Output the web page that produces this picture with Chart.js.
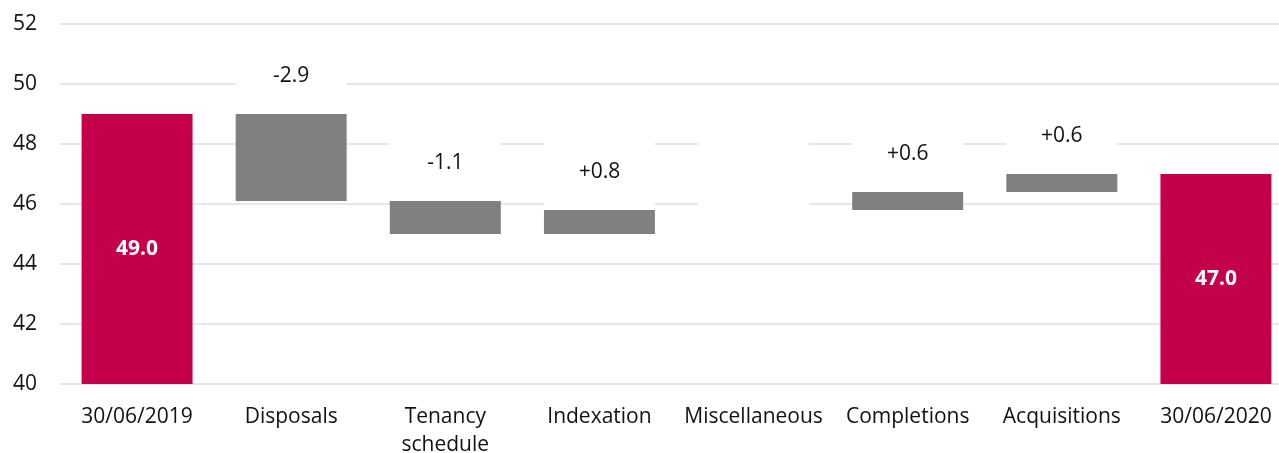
<!DOCTYPE html>
<html>
<head>
<meta charset="utf-8">
<script src="https://cdn.jsdelivr.net/npm/chart.js@4.4.1/dist/chart.umd.min.js"></script>
<style>
  html, body { margin: 0; padding: 0; background: #fff; overflow: hidden; }
  #wrap { width: 1293px; height: 453px; position: relative; }
</style>
</head>
<body>
<div id="wrap"><canvas id="waterfall"></canvas></div>
<script>
// categories and values
const categories = ['30/06/2019', 'Disposals', ['Tenancy', 'schedule'], 'Indexation', 'Miscellaneous', 'Completions', 'Acquisitions', '30/06/2020'];
const startValue = 49.0;
const endValue = 47.0;
const changes = [null, -2.9, -1.1, 0.8, 0, 0.6, 0.6, null];
const changeLabels = ['', '-2.9', '-1.1', '+0.8', '', '+0.6', '+0.6', ''];
const yTicks = [40, 42, 44, 46, 48, 50, 52];

const RED = '#c5004a';
const GREY = '#808080';
const FONT = '"Open Sans", "Noto Sans", sans-serif';

// build the floating ranges for the waterfall
var totalBars = [];
var stepBars = [];
var labelBoxes = [];
var level = startValue;
for (var i = 0; i < categories.length; i++) {
    if (i === 0) {
        totalBars.push([40, startValue]);
        stepBars.push(null);
        labelBoxes.push(null);
    } else if (i === categories.length - 1) {
        totalBars.push([40, endValue]);
        stepBars.push(null);
        labelBoxes.push(null);
    } else {
        var next = Math.round((level + changes[i]) * 10) / 10;
        var lo = Math.min(level, next), hi = Math.max(level, next);
        totalBars.push(null);
        stepBars.push([lo, hi]);
        labelBoxes.push([hi, hi + 2.5]); // white box that carries the label
        level = next;
    }
}

const labelPlugin = {
    id: 'labels',
    afterDatasetsDraw(chart) {
        const ctx = chart.ctx;
        ctx.save();
        ctx.textAlign = 'center';
        ctx.textBaseline = 'middle';
        // totals: white bold in the middle
        chart.getDatasetMeta(0).data.forEach((el, i) => {
            if (!totalBars[i]) return;
            ctx.font = 'bold 21px ' + FONT;
            ctx.fillStyle = '#ffffff';
            var v = i === 0 ? startValue : endValue;
            ctx.fillText(v.toFixed(1), el.x, (el.y + el.base) / 2);
        });
        // changes: black, centered in the white box
        chart.getDatasetMeta(2).data.forEach((el, i) => {
            if (!labelBoxes[i] || !changeLabels[i]) return;
            ctx.font = '21px ' + FONT;
            ctx.fillStyle = '#111111';
            ctx.fillText(changeLabels[i], el.x, (el.y + el.base) / 2);
        });
        ctx.restore();
    }
};

new Chart(document.getElementById('waterfall'), {
    type: 'bar',
    data: {
        labels: categories,
        datasets: [
            { data: totalBars, backgroundColor: RED, barPercentage: 0.72, categoryPercentage: 1 },
            { data: stepBars, backgroundColor: GREY, barPercentage: 0.72, categoryPercentage: 1 },
            { data: labelBoxes, backgroundColor: '#ffffff', barPercentage: 0.72, categoryPercentage: 1 }
        ]
    },
    options: {
        responsive: true,
        maintainAspectRatio: false,
        animation: false,
        layout: { padding: { top: 24, left: 0, right: 0, bottom: 0 } },
        plugins: {
            legend: { display: false },
            tooltip: { enabled: false }
        },
        scales: {
            x: {
                stacked: true,
                grid: { display: false },
                border: { display: false },
                ticks: {
                    color: '#111111',
                    font: { family: FONT, size: 21, lineHeight: 1.33 },
                    padding: 11,
                    maxRotation: 0,
                    autoSkip: false
                },
                afterFit: function(scale) {
                    scale.height = 69;
                    scale.paddingLeft = 0;
                    scale.paddingRight = 0;
                }
            },
            y: {
                min: 40,
                max: 52,
                afterBuildTicks: function(scale) {
                    scale.ticks = yTicks.map(v => ({ value: v }));
                },
                grid: { color: '#e6e6ee', lineWidth: 2, drawTicks: false },
                border: { display: false },
                ticks: {
                    color: '#111111',
                    font: { family: FONT, size: 21 },
                    padding: 23
                },
                afterFit: function(scale) {
                    scale.width = 60;
                    scale.paddingTop = 0;
                    scale.paddingBottom = 0;
                }
            }
        }
    },
    plugins: [labelPlugin]
});
</script>
</body>
</html>
